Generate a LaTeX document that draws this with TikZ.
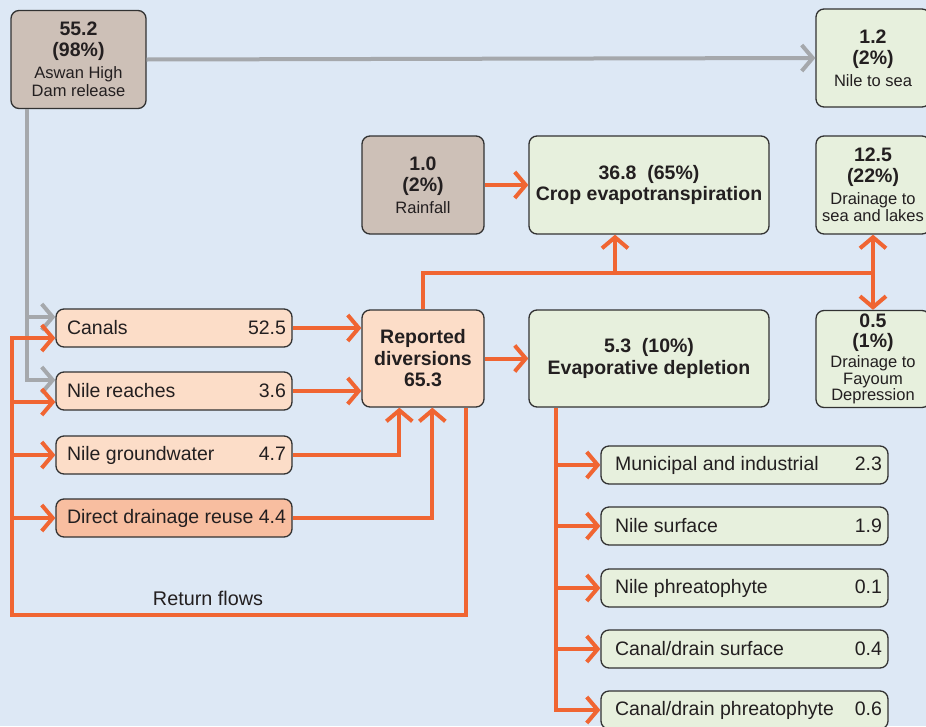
\documentclass[tikz,border=0pt]{standalone}
\usepackage{fontspec}
\setmainfont{Liberation Sans}
\usepackage{tikz}
\usetikzlibrary{arrows.meta}

\definecolor{backdrop}{RGB}{221,232,245}
\definecolor{boxline}{RGB}{50,50,50}
\definecolor{ink}{RGB}{35,31,32}
\definecolor{sourcefill}{RGB}{205,192,183}
\definecolor{sinkfill}{RGB}{231,240,221}
\definecolor{intakefill}{RGB}{252,221,200}
\definecolor{reusefill}{RGB}{248,190,160}
\definecolor{floworange}{RGB}{240,101,50}
\definecolor{releasegray}{RGB}{165,168,172}

\newcommand{\entry}[3][224pt]{\makebox[#1]{\hspace*{5pt}#2\hspace{4pt plus 1fill}#3}}
\newcommand{\smalltext}[1]{{\mdseries\fontsize{16.5}{17.5}\selectfont #1}}

\begin{document}
\begin{tikzpicture}[
            x=1pt, y=-1pt,
            >={Straight Barb[length=11pt,width=26pt]},
            box/.style={draw=boxline, line width=1.3pt, rounded corners=8pt, align=center, inner sep=0pt, text=ink, font=\fontsize{19.5}{21.5}\selectfont\bfseries},
            source/.style={box, fill=sourcefill},
            sink/.style={box, fill=sinkfill},
            intake/.style={box, fill=intakefill},
            leftrow/.style={intake, font=\fontsize{19.5}{22}\selectfont, minimum height=38pt, inner xsep=6pt},
            rightrow/.style={sink, font=\fontsize{19.5}{22}\selectfont, minimum height=38pt, inner xsep=6pt},
            flow/.style={draw=floworange, line width=4pt},
            release/.style={draw=releasegray, line width=4pt},
            note/.style={text=ink, font=\fontsize{19.8}{22}\selectfont}
        ]
            \useasboundingbox (0,0) rectangle (926,726);
            \clip (0,0) rectangle (926,726);
            \fill[backdrop] (0,0) rectangle (926,726);

            % sources and totals
            \node[source, minimum width=135pt, minimum height=98pt] (aswan) at (78.5,59.5) {55.2\\(98\%)\\\smalltext{Aswan High}\\[-3pt]\smalltext{Dam release}};
            \node[sink, minimum width=114pt, minimum height=98pt] (sea) at (873,58) {1.2\\(2\%)\\\smalltext{Nile to sea}};
            \node[source, minimum width=122pt, minimum height=98pt] (rain) at (423,185) {1.0\\(2\%)\\\smalltext{Rainfall}};
            \node[sink, minimum width=240pt, minimum height=98pt] (crop) at (649,185) {36.8\ \ (65\%)\\Crop evapotranspiration};
            \node[sink, minimum width=114pt, minimum height=98pt] (lakes) at (873,185) {12.5\\(22\%)\\\smalltext{Drainage to}\\[-4pt]\smalltext{sea and lakes}};
            \node[intake, minimum width=122pt, minimum height=97pt] (rd) at (423,358.5) {Reported\\diversions\\65.3};
            \node[sink, minimum width=240pt, minimum height=97pt] (evap) at (649,358.5) {5.3\ \ (10\%)\\Evaporative depletion};
            \node[sink, minimum width=114pt, minimum height=97pt] (fayoum) at (873,359) {0.5\\[-2pt](1\%)\\[-1pt]\smalltext{Drainage to}\\[-5pt]\smalltext{Fayoum}\\[-5pt]\smalltext{Depression}};

            % diversion sources
            \node[leftrow] (canals) at (174,328) {\entry{Canals}{52.5}};
            \node[leftrow] (reaches) at (174,391) {\entry{Nile reaches}{3.6}};
            \node[leftrow] (ground) at (174,455) {\entry{Nile groundwater}{4.7}};
            \node[leftrow, fill=reusefill] (reuse) at (174,518) {\entry{Direct drainage reuse}{4.4}};

            % evaporative depletion parts
            \node[rightrow] (muni) at (744.5,465) {\entry[275pt]{\hspace*{3pt}Municipal and industrial}{2.3}};
            \node[rightrow] (nsurf) at (744.5,526) {\entry[275pt]{\hspace*{3pt}Nile surface}{1.9}};
            \node[rightrow] (nphreat) at (744.5,588) {\entry[275pt]{\hspace*{3pt}Nile phreatophyte}{0.1}};
            \node[rightrow] (csurf) at (744.5,649) {\entry[275pt]{\hspace*{3pt}Canal/drain surface}{0.4}};
            \node[rightrow] (cphreat) at (744.5,710) {\entry[275pt]{\hspace*{3pt}Canal/drain phreatophyte}{0.6}};

            \node[note] (returnlabel) at (208,598) {Return flows};

            % dam release
            \coordinate (trunktop) at ([xshift=17pt]aswan.south west);
            \draw[release, ->] (aswan.east) -- (sea.west);
            \draw[release, ->] (trunktop) |- ([yshift=11pt]canals.west);
            \draw[release, ->] (trunktop) |- ([yshift=11pt]reaches.west);

            % into reported diversions
            \draw[flow, ->] (canals.east) -- (canals.east -| rd.west);
            \draw[flow, ->] (reaches.east) -- (reaches.east -| rd.west);
            \draw[flow, ->] (ground.east) -| ([xshift=38pt]rd.south west);
            \draw[flow, ->] (reuse.east) -| ([xshift=71pt]rd.south west);
            \draw[flow, ->] (rain.east) -- (crop.west);
            \draw[flow, ->] (rd.east) -- (evap.west);

            % return flows
            \coordinate (loopcorner) at (12,615);
            \coordinate (reachesin) at ([yshift=-11pt]reaches.west);
            \draw[flow, ->] ([xshift=-19pt]rd.south east) |- (loopcorner) |- ([yshift=-10pt]canals.west);
            \foreach \p in {reachesin, ground.west, reuse.west}
                \draw[flow, ->] (loopcorner |- \p) -- (\p);

            % split to crop and drainage
            \coordinate (bus) at (lakes.south |- 0,273);
            \coordinate (cropin) at ([xshift=-34pt]crop.south);
            \draw[flow] (rd.north) |- (bus);
            \draw[flow, ->] (cropin |- bus) -- (cropin);
            \draw[flow, ->] (bus) -- (lakes.south);
            \draw[flow, ->] (bus) -- (fayoum.north);

            % evaporative depletion split
            \coordinate (evapout) at ([xshift=-93pt]evap.south);
            \draw[flow, ->] (evapout) |- (cphreat.west);
            \foreach \n in {muni, nsurf, nphreat, csurf}
                \draw[flow, ->] (evapout |- \n.west) -- (\n.west);
        \end{tikzpicture}
\end{document}
